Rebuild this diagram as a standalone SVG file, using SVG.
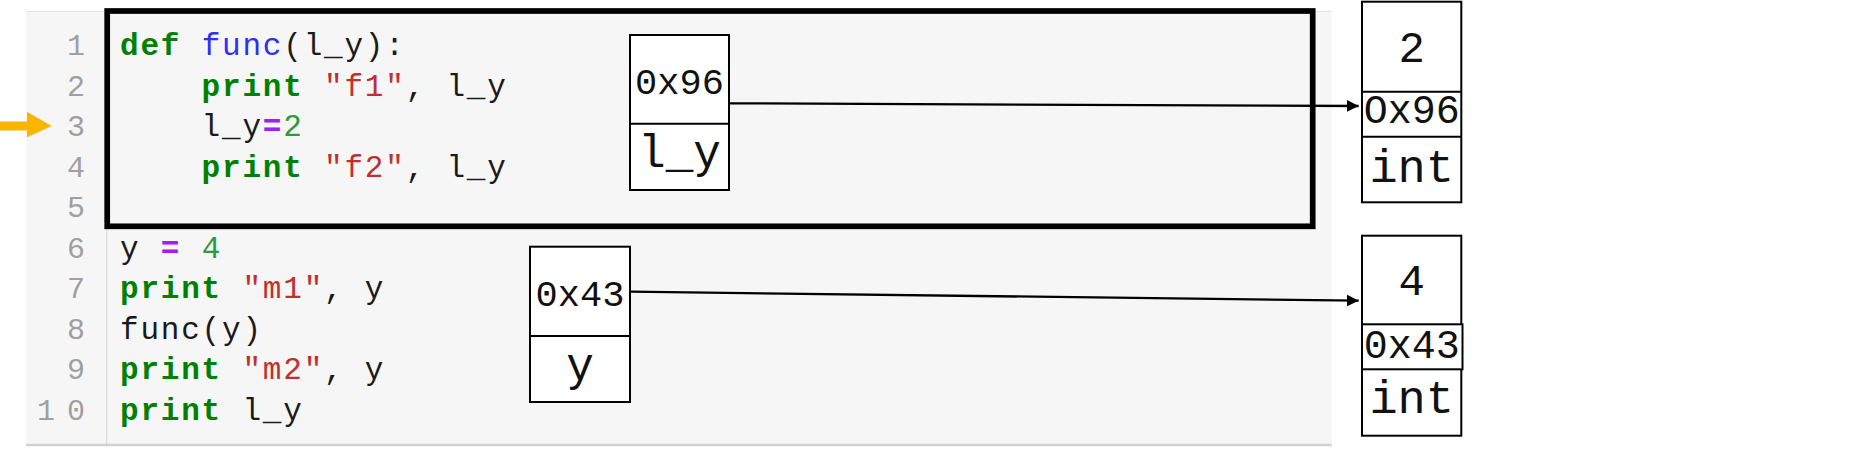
<svg xmlns="http://www.w3.org/2000/svg" width="1857" height="461" viewBox="0 0 1857 461">
<style>
.code{font-family:"Liberation Mono","DejaVu Sans Mono",monospace;font-size:31px;letter-spacing:1.8px;fill:#1a1a1a}
.kw{fill:#008000;font-weight:bold}
.fn{fill:#2f2ff5}
.st{fill:#c0302e}
.nu{fill:#2e9a3c}
.op{fill:#a020f0;font-weight:bold}
.ln{font-family:"Liberation Mono","DejaVu Sans Mono",monospace;font-size:30px;fill:#a0a0a0}
.lne{text-anchor:end}
.cell{fill:#fff;stroke:#000;stroke-width:2}
.div{stroke:#000;stroke-width:2}
.bt{font-family:"Liberation Mono","DejaVu Sans Mono",monospace;fill:#111;text-anchor:middle}
.conn{stroke:#000;stroke-width:2.3;fill:none;marker-end:url(#ah)}
</style>
<defs>
<marker id="ah" markerUnits="userSpaceOnUse" markerWidth="13" markerHeight="13" refX="12" refY="6" orient="auto">
<path d="M0,0 L12,6 L0,12 Z" fill="#000"/>
</marker>
</defs>
<rect width="1857" height="461" fill="#fff"/>

<g id="code-panel">
<rect x="26" y="11" width="1305.7" height="433" fill="#f6f6f6"/>
<line x1="26" y1="11.5" x2="1331.7" y2="11.5" stroke="#e4e4e4" stroke-width="1"/>
<line x1="26" y1="445" x2="1331.7" y2="445" stroke="#d2d2d2" stroke-width="2.5"/>
<line x1="106.7" y1="11" x2="106.7" y2="444" stroke="#dcdcdc" stroke-width="1.2"/>
<text class="ln lne" x="85" y="55">1</text>
<text class="ln lne" x="85" y="95.5">2</text>
<text class="ln lne" x="85" y="136">3</text>
<text class="ln lne" x="85" y="176.5">4</text>
<text class="ln lne" x="85" y="217">5</text>
<text class="ln lne" x="85" y="257.5">6</text>
<text class="ln lne" x="85" y="298">7</text>
<text class="ln lne" x="85" y="338.5">8</text>
<text class="ln lne" x="85" y="379">9</text>
<text class="ln" x="37 67" y="419.5">10</text>
<text class="code" x="120" y="55" xml:space="preserve"><tspan class="kw">def</tspan> <tspan class="fn">func</tspan>(l_y):</text>
<text class="code" x="201.6" y="95.5" xml:space="preserve"><tspan class="kw">print</tspan> <tspan class="st">"f1"</tspan>, l_y</text>
<text class="code" x="201.6" y="136" xml:space="preserve">l_y<tspan class="op">=</tspan><tspan class="nu">2</tspan></text>
<text class="code" x="201.6" y="176.5" xml:space="preserve"><tspan class="kw">print</tspan> <tspan class="st">"f2"</tspan>, l_y</text>
<text class="code" x="120" y="257.5" xml:space="preserve">y <tspan class="op">=</tspan> <tspan class="nu">4</tspan></text>
<text class="code" x="120" y="298" xml:space="preserve"><tspan class="kw">print</tspan> <tspan class="st">"m1"</tspan>, y</text>
<text class="code" x="120" y="338.5" xml:space="preserve">func(y)</text>
<text class="code" x="120" y="379" xml:space="preserve"><tspan class="kw">print</tspan> <tspan class="st">"m2"</tspan>, y</text>
<text class="code" x="120" y="419.5" xml:space="preserve"><tspan class="kw">print</tspan> l_y</text>
</g>

<g id="current-line-arrow">
<path d="M0,121.5 L27,121.5 L27,111.7 L51.7,126 L27,137.3 L27,130.5 L0,130.5 Z" fill="#fbb400"/>
</g>

<g id="func-frame">
<rect x="107.2" y="11" width="1205.5" height="215.3" fill="none" stroke="#000" stroke-width="5.7"/>
</g>

<g id="var-l_y">
<rect class="cell" x="630" y="35" width="99" height="155"/>
<line class="div" x1="630" y1="123.7" x2="729" y2="123.7"/>
<text class="bt" x="679.5" y="94" font-size="37">0x96</text>
<text class="bt" x="679.5" y="166.7" font-size="46">l_y</text>
</g>

<g id="var-y">
<rect class="cell" x="530" y="246.7" width="100" height="155.3"/>
<line class="div" x1="530" y1="336" x2="630" y2="336"/>
<text class="bt" x="580" y="306" font-size="37">0x43</text>
<text class="bt" x="580" y="380" font-size="46">y</text>
</g>

<g id="connectors">
<line class="conn" x1="729" y1="103.3" x2="1358.7" y2="106"/>
<line class="conn" x1="630" y1="291.7" x2="1358.7" y2="300.7"/>
</g>

<g id="obj-2">
<rect class="cell" x="1362" y="1.7" width="99.3" height="200.6"/>
<line class="div" x1="1362" y1="91.7" x2="1461.3" y2="91.7"/>
<line class="div" x1="1362" y1="136.7" x2="1461.3" y2="136.7"/>
<text class="bt" x="1411.7" y="61.7" font-size="44">2</text>
<text class="bt" x="1411.7" y="123.3" font-size="40">Ox96</text>
<text class="bt" x="1411.7" y="181.7" font-size="47">int</text>
</g>

<g id="obj-4">
<rect class="cell" x="1362" y="235.7" width="99.3" height="200"/>
<rect class="cell" x="1362" y="324.3" width="100.5" height="45"/>
<text class="bt" x="1411.7" y="295" font-size="44">4</text>
<text class="bt" x="1411.7" y="357.7" font-size="40">0x43</text>
<text class="bt" x="1411.7" y="413.3" font-size="47">int</text>
</g>
</svg>
